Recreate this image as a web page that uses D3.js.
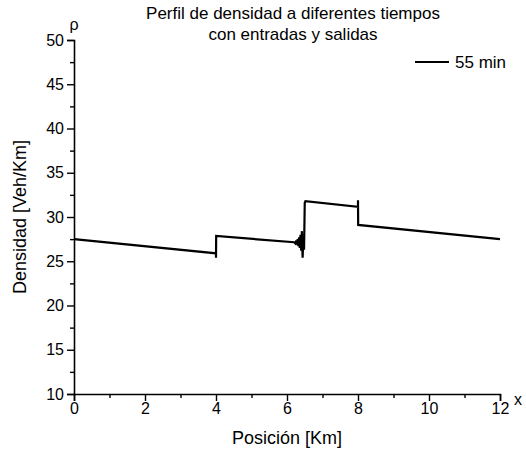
<!DOCTYPE html>
<html>
<head>
<meta charset="utf-8">
<script src="https://cdn.jsdelivr.net/npm/d3@7"></script>
<style>
  html, body { margin: 0; padding: 0; background: #fff; }
  svg { display: block; font-family: Arial, "Liberation Sans", sans-serif; }
</style>
</head>
<body>
<svg id="chart" width="526" height="455"></svg>
<script>
// Density profile at t = 55 min (position in km, density in veh/km)
const positions = [0, 4, 4, 4.005, 6.2, 6.24, 6.26, 6.28, 6.30, 6.32, 6.34, 6.36, 6.38, 6.40, 6.42, 6.44, 6.46, 6.48, 6.5, 6.52, 8, 8, 8.005, 12];
const densities = [27.5, 25.9, 25.4, 27.85, 27.15, 27.0, 27.35, 26.9, 27.5, 26.7, 27.7, 26.5, 28.0, 26.2, 28.4, 25.4, 27.6, 26.3, 31.6, 31.8, 31.15, 31.9, 29.1, 27.5];
const xTicks = [0, 2, 4, 6, 8, 10, 12];
const yTicks = [10, 15, 20, 25, 30, 35, 40, 45, 50];
const seriesName = "55 min";
const titleLines = ["Perfil de densidad a diferentes tiempos", "con entradas y salidas"];

const svg = d3.select("#chart");
const x = d3.scaleLinear().domain([0, 12]).range([74, 500]);
const y = d3.scaleLinear().domain([10, 50]).range([394, 40]);

// Axes with major and minor ticks
svg.append("g").attr("transform", `translate(0,${y(10)})`)
  .call(d3.axisBottom(x).tickValues(xTicks).tickFormat(d3.format("d")).tickSize(7).tickPadding(2));
svg.append("g").attr("transform", `translate(0,${y(10)})`)
  .call(d3.axisBottom(x).tickValues(d3.range(1, 12, 2)).tickFormat("").tickSize(4))
  .select(".domain").remove();
svg.append("g").attr("transform", `translate(${x(0)},0)`)
  .call(d3.axisLeft(y).tickValues(yTicks).tickFormat(d3.format("d")).tickSize(7).tickPadding(3));
svg.append("g").attr("transform", `translate(${x(0)},0)`)
  .call(d3.axisLeft(y).tickValues(d3.range(12.5, 50, 5)).tickFormat("").tickSize(4))
  .select(".domain").remove();

svg.selectAll(".domain").attr("stroke", "#000").attr("stroke-width", 1.6);
svg.selectAll(".tick line").attr("stroke", "#000").attr("stroke-width", 1.4);
svg.selectAll(".tick text").attr("font-size", 16).attr("fill", "#000")
  .attr("font-family", "Arial, 'Liberation Sans', sans-serif");

// Density line
const line = d3.line().x((d, i) => x(positions[i])).y(d => y(d));
svg.append("path")
  .datum(densities)
  .attr("d", line)
  .attr("fill", "none")
  .attr("stroke", "#000")
  .attr("stroke-width", 2.2)
  .attr("stroke-linejoin", "miter");

// Title
svg.append("text").attr("x", 293).attr("y", 19).attr("text-anchor", "middle")
  .attr("font-size", 17).text(titleLines[0]);
svg.append("text").attr("x", 293).attr("y", 40).attr("text-anchor", "middle")
  .attr("font-size", 17).text(titleLines[1]);

// Axis end labels
svg.append("text").attr("x", 74).attr("y", 30).attr("text-anchor", "middle")
  .attr("font-size", 16).text("ρ");
svg.append("text").attr("x", 518).attr("y", 405).attr("text-anchor", "middle")
  .attr("font-size", 16).text("x");

// Axis titles
svg.append("text").attr("x", 287).attr("y", 444).attr("text-anchor", "middle")
  .attr("font-size", 18).text("Posición [Km]");
svg.append("text")
  .attr("transform", `translate(26,${(y(10) + y(50)) / 2}) rotate(-90)`)
  .attr("text-anchor", "middle").attr("font-size", 18).text("Densidad [Veh/Km]");

// Legend
svg.append("line").attr("x1", 415).attr("x2", 449).attr("y1", 62).attr("y2", 62)
  .attr("stroke", "#000").attr("stroke-width", 2.2);
svg.append("text").attr("x", 455).attr("y", 68).attr("font-size", 17).text(seriesName);
</script>
</body>
</html>
